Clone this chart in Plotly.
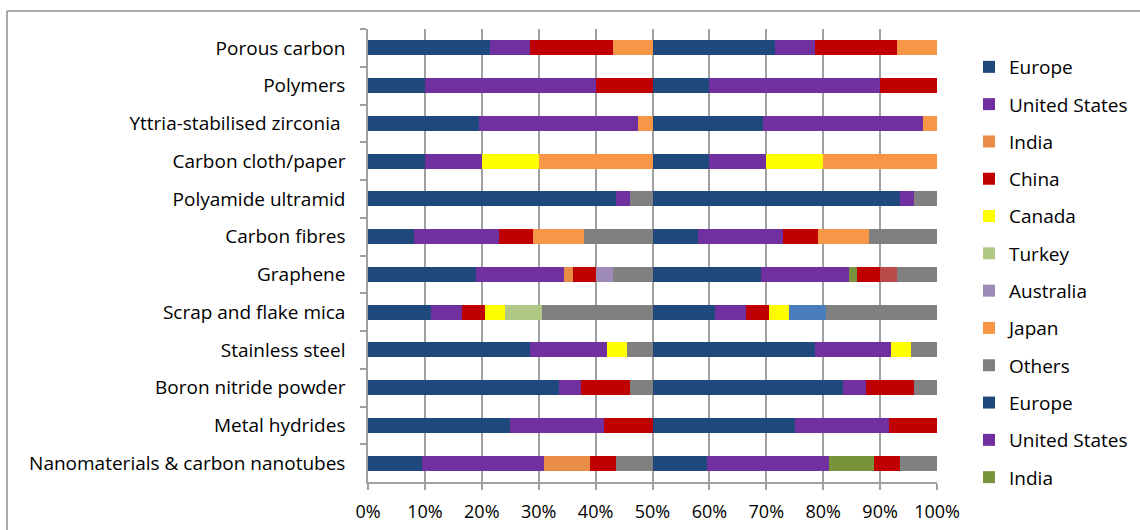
import plotly.graph_objects as go

# Categories, listed top to bottom
categories = [
    "Porous carbon",
    "Polymers",
    "Yttria-stabilised zirconia ",
    "Carbon cloth/paper",
    "Polyamide ultramid",
    "Carbon fibres",
    "Graphene",
    "Scrap and flake mica",
    "Stainless steel",
    "Boron nitride powder",
    "Metal hydrides",
    "Nanomaterials & carbon nanotubes",
]

# Regional shares (% of each category, each row sums to 100)
europe        = [43, 20, 39, 20, 87, 16, 38, 22, 57, 67, 50, 19]
united_states = [14, 60, 56, 20,  5, 30, 31, 11, 27,  8, 33, 43]
india         = [ 0,  0,  0,  0,  0,  0,  3,  0,  0,  0,  0, 16]
china         = [29, 20,  0,  0,  0, 12,  8,  8,  0, 17, 17,  9]
canada        = [ 0,  0,  0, 20,  0,  0,  0,  7,  7,  0,  0,  0]
turkey        = [ 0,  0,  0,  0,  0,  0,  0, 13,  0,  0,  0,  0]
australia     = [ 0,  0,  0,  0,  0,  0,  6,  0,  0,  0,  0,  0]
japan         = [14,  0,  5, 40,  0, 18,  0,  0,  0,  0,  0,  0]
others        = [ 0,  0,  0,  0,  8, 24, 14, 39,  9,  8,  0, 13]

series_names = ["Europe", "United States", "India", "China", "Canada",
                "Turkey", "Australia", "Japan", "Others"]
series_values = [europe, united_states, india, china, canada,
                 turkey, australia, japan, others]

colors_first = ["#1F497D", "#7030A0", "#E98C46", "#C00000", "#FFFF00",
                "#AFC886", "#9E8AB8", "#F79646", "#808080"]
colors_second = ["#1F497D", "#7030A0", "#77933C", "#C00000", "#FFFF00",
                 "#4A7EBB", "#B94A48", "#F79646", "#808080"]

x_ticks = [0, 10, 20, 30, 40, 50, 60, 70, 80, 90, 100]
x_tick_labels = [f"{t}%" for t in x_ticks]

FONT = "Open Sans"
FSIZE = 19
W, H = 1140, 530
PL, PR, PT, PB = 368, 937, 29, 482  # plot area in pixels

fig = go.Figure()

# Two stacked halves: each half shows the same shares scaled to 50%
legend_count = 0
for half, colors in ((0, colors_first), (1, colors_second)):
    for name, vals, col in zip(series_names, series_values, colors):
        show = legend_count < 12
        legend_count += 1
        fig.add_trace(go.Bar(
            y=categories,
            x=[v / 2 for v in vals],
            name=name,
            orientation="h",
            marker=dict(color=col, line=dict(width=0)),
            showlegend=show,
            legendgroup=f"g{legend_count}",
            hoverinfo="skip",
        ))

def px_x(p):
    return (p - PL) / (PR - PL)

def px_y(p):
    return (PB - p) / (PB - PT)

fig.update_layout(
    width=W, height=H,
    barmode="stack",
    bargap=0.6,
    plot_bgcolor="white",
    paper_bgcolor="white",
    margin=dict(l=PL, r=W - PR, t=PT, b=H - PB, pad=0, autoexpand=False),
    font=dict(family=FONT, size=FSIZE, color="#000000"),
    xaxis=dict(
        range=[0, 100],
        tickvals=x_ticks,
        ticktext=x_tick_labels,
        showgrid=True,
        gridcolor="#A0A0A0",
        gridwidth=1.5,
        zeroline=False,
        showline=True,
        linecolor="#A0A0A0",
        linewidth=1.5,
        ticks="outside",
        ticklen=6,
        tickcolor="#A0A0A0",
        tickwidth=1.5,
        ticklabelstandoff=7,
        tickfont=dict(family=FONT, size=18, color="#000000"),
        fixedrange=True,
    ),
    yaxis=dict(
        categoryorder="array",
        categoryarray=categories,
        autorange="reversed",
        showgrid=False,
        showline=True,
        linecolor="#A0A0A0",
        linewidth=1.5,
        ticks="outside",
        tickson="boundaries",
        ticklen=6,
        tickcolor="#A0A0A0",
        tickwidth=1.5,
        ticklabelstandoff=17,
        tickfont=dict(family=FONT, size=FSIZE, color="#000000"),
        fixedrange=True,
    ),
    legend=dict(
        x=px_x(969), y=px_y(48),
        xanchor="left", yanchor="top",
        traceorder="grouped",
        tracegroupgap=9.6,
        maxheight=700,
        font=dict(family=FONT, size=FSIZE, color="#000000"),
        bgcolor="rgba(0,0,0,0)",
        itemclick=False, itemdoubleclick=False,
    ),
    shapes=[
        # chart frame (left and top edges)
        dict(type="line", xref="paper", yref="paper",
             x0=px_x(7), x1=px_x(1160), y0=px_y(11), y1=px_y(11),
             line=dict(color="#8C8C8C", width=1.5)),
        dict(type="line", xref="paper", yref="paper",
             x0=px_x(7), x1=px_x(7), y0=px_y(11), y1=px_y(560),
             line=dict(color="#8C8C8C", width=1.5)),
    ],
)

fig.write_html("out.html")
